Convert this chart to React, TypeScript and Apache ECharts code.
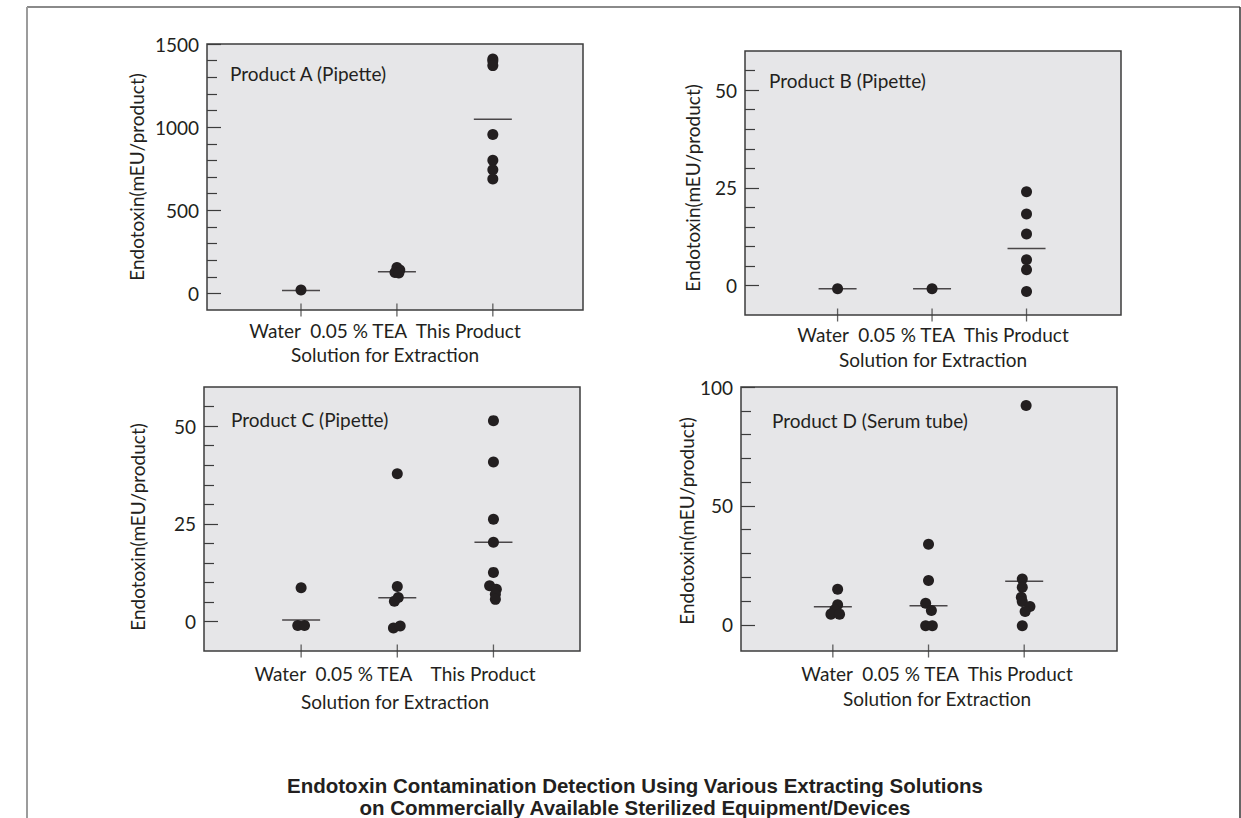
import React, { useEffect, useRef } from "react";
import * as echarts from "echarts";

// ---------- data ----------
const CATEGORIES = ["Water", "0.05 % TEA", "This Product"];
const CATEGORY_POS = [1, 2, 3];
const X_TITLE = "Solution for Extraction";
const Y_TITLE = "Endotoxin(mEU/product)";
const MAIN_TITLE = "Endotoxin Contamination Detection Using Various Extracting Solutions\non Commercially Available Sterilized Equipment/Devices";
const PANEL_TITLES = ["Product A (Pipette)", "Product B (Pipette)", "Product C (Pipette)", "Product D (Serum tube)"];

// [category position (with small jitter), endotoxin mEU/product]
const A_POINTS = [
  [1, 20],
  [2.0, 155], [2.03, 140], [1.98, 125], [2.02, 122],
  [3, 1410], [3, 1398], [3, 1370], [3, 956], [3, 800], [3, 744], [3, 688],
];
const A_MEANS = [18, 130, 1048];
const A_LABELS = [0, 500, 1000, 1500];
const A_MINOR = [100, 200, 300, 400, 600, 700, 800, 900, 1100, 1200, 1300, 1400];

const B_POINTS = [
  [1, -0.8],
  [2, -0.8],
  [3, 24.0], [3, 18.3], [3, 13.2], [3, 6.6], [3, 4.1], [3, -1.5],
];
const B_MEANS = [-0.8, -0.8, 9.5];
const B_LABELS = [0, 25, 50];
const B_MINOR = [5, 10, 15, 20, 30, 35, 40, 45, 55];

const C_POINTS = [
  [1, 8.7], [0.965, -1.0], [1.035, -1.0],
  [2, 37.8], [2, 9.0], [2.01, 6.2], [1.97, 5.2], [1.96, -1.6], [2.03, -1.1],
  [3, 51.4], [3, 40.8], [3, 26.2], [3, 20.3], [3, 12.6], [2.96, 9.2], [3.03, 8.3], [3.02, 7.0], [3.02, 5.7],
];
const C_MEANS = [0.4, 6.1, 20.3];
const C_LABELS = [0, 25, 50];
const C_MINOR = [5, 10, 15, 20, 30, 35, 40, 45, 55];

const D_POINTS = [
  [1.05, 15.0], [1.05, 8.4], [1.02, 6.3], [0.98, 4.5], [1.07, 4.5],
  [2, 33.9], [2, 18.6], [1.97, 9.1], [2.03, 6.0], [1.97, -0.4], [2.04, -0.4],
  [3.02, 92.2], [2.98, 19.3], [2.98, 15.8], [2.97, 11.6], [2.98, 9.8], [3.06, 7.7], [3.01, 5.6], [2.98, -0.4],
];
const D_MEANS = [7.6, 8.0, 18.3];
const D_LABELS = [0, 50, 100];
const D_MINOR = [10, 20, 30, 40, 60, 70, 80, 90];

// ---------- layout / style ----------
const FONT = "Lato, 'Noto Sans', sans-serif";
const TITLE_FONT = "'Liberation Sans', Arial, sans-serif";
const INK = "#231f20";
const PLOT_BG = "#e6e6e8";
const BORDER = "#3c3c3c";
const FS = 19;

const PANELS = [
  { points: A_POINTS, means: A_MEANS, labels: A_LABELS, minor: A_MINOR, yMin: -100, yMax: 1500,
    catLine: "Water  0.05 % TEA  This Product",
    grid: { left: 207, top: 44, width: 376, height: 266 }, xMin: 0.02, xMax: 3.94,
    yNameGap: 61, yNameShift: 0, catGap: 10, catShift: -10, titleGap: 34, titlePos: [230, 63] },
  { points: B_POINTS, means: B_MEANS, labels: B_LABELS, minor: B_MINOR, yMin: -7.5, yMax: 60,
    catLine: "Water  0.05 % TEA  This Product",
    grid: { left: 745, top: 51, width: 376, height: 264 }, xMin: 0.02, xMax: 4.0,
    yNameGap: 43, yNameShift: 5, catGap: 9, catShift: 0, titleGap: 34, titlePos: [769, 70] },
  { points: C_POINTS, means: C_MEANS, labels: C_LABELS, minor: C_MINOR, yMin: -7.5, yMax: 60,
    catLine: "Water  0.05 % TEA    This Product",
    grid: { left: 204, top: 387, width: 376, height: 264 }, xMin: -0.01, xMax: 3.9,
    yNameGap: 57, yNameShift: 8, catGap: 12, catShift: 3, titleGap: 40, titlePos: [231, 409] },
  { points: D_POINTS, means: D_MEANS, labels: D_LABELS, minor: D_MINOR, yMin: -11, yMax: 100,
    catLine: "Water  0.05 % TEA  This Product",
    grid: { left: 741, top: 387, width: 376, height: 264 }, xMin: 0.04, xMax: 3.97,
    yNameGap: 40, yNameShift: 2, catGap: 12, catShift: 8, titleGap: 37, titlePos: [772, 410] },
];

// horizontal shift of a centred name through asymmetric padding
function shiftPadding(shift: number) {
  return shift >= 0 ? [0, 0, 0, shift * 2] : [0, -shift * 2, 0, 0];
}

function buildOption() {
  const grid: any[] = [];
  const xAxis: any[] = [];
  const yAxis: any[] = [];
  const series: any[] = [];
  const title: any[] = [];

  PANELS.forEach((p, i) => {
    grid.push({
      ...p.grid,
      show: true,
      backgroundColor: PLOT_BG,
      borderColor: BORDER,
      borderWidth: 1.5,
      containLabel: false,
    });
    // x axis: category line
    xAxis.push({
      type: "value",
      gridIndex: i,
      position: "bottom",
      min: p.xMin,
      max: p.xMax,
      axisLine: { show: false, onZero: false },
      axisTick: { show: false },
      axisLabel: { show: false },
      splitLine: { show: false },
      name: p.catLine.replace(/  /g, " \u00a0"),
      nameLocation: "middle",
      nameGap: p.catGap,
      nameTextStyle: { color: INK, fontSize: FS, lineHeight: 20, fontFamily: FONT, padding: shiftPadding(p.catShift) },
    });
    // x axis: axis title
    xAxis.push({
      type: "value",
      gridIndex: i,
      position: "bottom",
      min: p.xMin,
      max: p.xMax,
      axisLine: { show: false, onZero: false },
      axisTick: { show: false },
      axisLabel: { show: false },
      splitLine: { show: false },
      name: X_TITLE,
      nameLocation: "middle",
      nameGap: p.titleGap,
      nameTextStyle: { color: INK, fontSize: FS, lineHeight: 20, fontFamily: FONT, padding: shiftPadding(p.catShift) },
    });
    // major y axis: labels and long ticks
    yAxis.push({
      type: "value",
      gridIndex: i,
      position: "left",
      min: p.yMin,
      max: p.yMax,
      axisLine: { show: false, onZero: false },
      axisTick: { show: true, inside: true, length: 14, customValues: p.labels, lineStyle: { color: BORDER, width: 1.2 } },
      axisLabel: { show: true, customValues: p.labels, margin: 8, color: INK, fontSize: FS, fontFamily: FONT, formatter: (v: number) => String(v) },
      splitLine: { show: false },
      name: Y_TITLE,
      nameLocation: "middle",
      nameGap: p.yNameGap,
      nameTextStyle: { color: INK, fontSize: FS, fontFamily: FONT, padding: [0, p.yNameShift * 2, 0, 0] },
    });
    // minor y axis: short ticks
    yAxis.push({
      type: "value",
      gridIndex: i,
      position: "left",
      offset: 0,
      min: p.yMin,
      max: p.yMax,
      axisLine: { show: false, onZero: false },
      axisTick: { show: true, inside: true, length: 10, customValues: p.minor, lineStyle: { color: BORDER, width: 1.2 } },
      axisLabel: { show: false },
      splitLine: { show: false },
    });

    // category tick marks crossing the bottom frame, placed at each category on the axis minimum
    series.push({
      type: "scatter",
      xAxisIndex: i * 2,
      yAxisIndex: i * 2,
      symbol: "rect",
      symbolSize: [1.3, 13],
      itemStyle: { color: BORDER },
      data: CATEGORY_POS.map((x) => [x, p.yMin]),
      clip: false,
      silent: true,
      z: 1,
    });
    // mean bars
    series.push({
      type: "scatter",
      xAxisIndex: i * 2,
      yAxisIndex: i * 2,
      symbol: "rect",
      symbolSize: [38, 1.5],
      itemStyle: { color: INK },
      data: p.means.map((m, k) => [CATEGORY_POS[k], m]),
      silent: true,
      z: 2,
    });
    // individual measurements
    series.push({
      type: "scatter",
      xAxisIndex: i * 2,
      yAxisIndex: i * 2,
      symbol: "circle",
      symbolSize: 11,
      itemStyle: { color: INK, opacity: 1 },
      data: p.points,
      silent: true,
      z: 3,
    });

    title.push({
      text: PANEL_TITLES[i],
      left: p.titlePos[0],
      top: p.titlePos[1],
      padding: 0,
      textStyle: { color: INK, fontSize: FS, fontWeight: "normal", fontFamily: FONT, lineHeight: 20 },
    });
  });

  title.push({
    text: MAIN_TITLE,
    left: 635,
    top: 774,
    padding: 0,
    textAlign: "center",
    textStyle: { color: INK, fontSize: 20.5, fontWeight: "bold", fontFamily: TITLE_FONT, lineHeight: 22 },
  });

  return {
    animation: false,
    backgroundColor: "#ffffff",
    textStyle: { fontFamily: FONT },
    title,
    grid,
    xAxis,
    yAxis,
    series,
    graphic: [
      { type: "line", shape: { x1: 27, y1: 7, x2: 1240, y2: 7 }, style: { stroke: "#8a8a8a", lineWidth: 2 }, silent: true },
      { type: "line", shape: { x1: 27, y1: 7, x2: 27, y2: 818 }, style: { stroke: "#9c9c9c", lineWidth: 2 }, silent: true },
      { type: "line", shape: { x1: 1240, y1: 7, x2: 1240, y2: 818 }, style: { stroke: "#333333", lineWidth: 1.5 }, silent: true },
    ],
  };
}

export default function App() {
  const ref = useRef<HTMLDivElement>(null);
  useEffect(() => {
    if (!ref.current) return;
    const chart = echarts.init(ref.current, undefined, { renderer: "svg" });
    chart.setOption(buildOption() as any);
    return () => chart.dispose();
  }, []);
  return (
    <div
      ref={ref}
      style={{ position: "fixed", left: 0, top: 0, width: 1241, height: 818, background: "#fff" }}
    />
  );
}
